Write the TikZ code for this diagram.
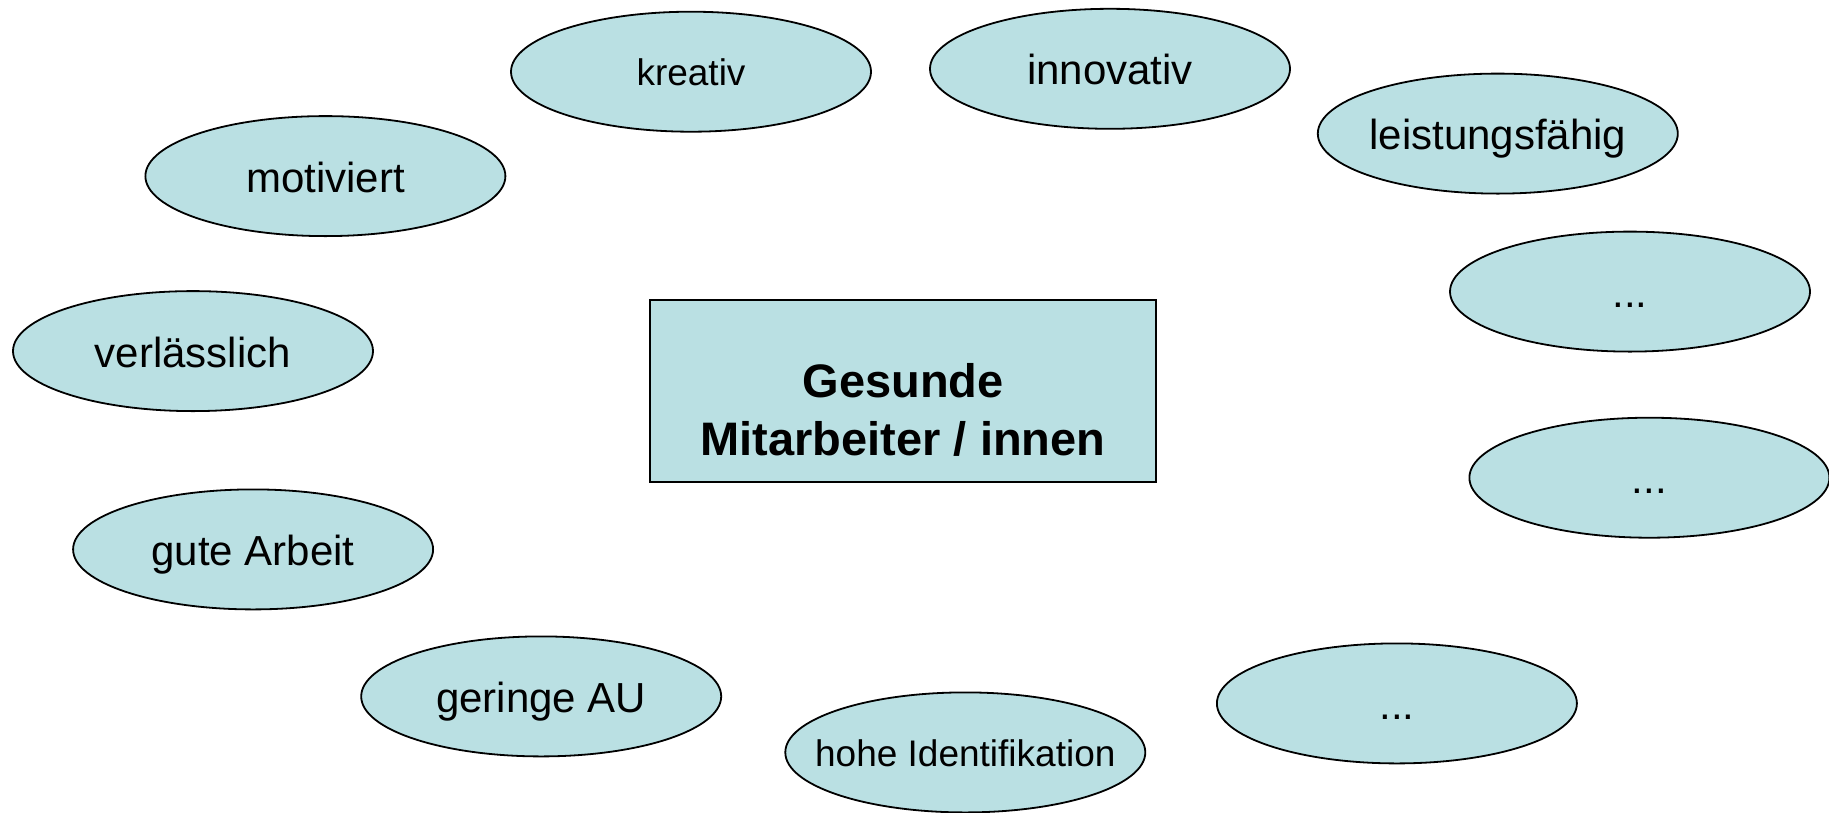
\documentclass[tikz,border=0pt]{standalone}
\usepackage{fontspec}
\setmainfont{Liberation Sans}
\usetikzlibrary{shapes.geometric}
\definecolor{bub}{RGB}{186,224,227}
\tikzset{
  bubble/.style={ellipse, draw=black, line width=1.8pt, fill=bub, minimum width=360pt, minimum height=120pt, inner sep=0pt},
  lbl/.style={anchor=base, inner sep=0pt, font=\fontsize{42}{50}\selectfont},
  smalllbl/.style={lbl, font=\fontsize{37}{44}\selectfont},
  centerbox/.style={rectangle, draw=black, line width=1.8pt, fill=bub, minimum width=506pt, minimum height=182pt, inner sep=0pt},
  centertext/.style={align=center, font=\fontsize{47}{58}\selectfont\bfseries}
}
\begin{document}
\begin{tikzpicture}[x=1pt,y=-1pt]
\useasboundingbox (0,0) rectangle (1829,812);
\node[bubble] (kreativ) at (691,71.7) {};
\node[smalllbl] (kreativT) at ([yshift=-14pt]kreativ.center) {kreativ};
\node[bubble] (innovativ) at (1110,68.8) {};
\node[lbl] (innovativT) at ([yshift=-16pt]innovativ.center) {innovativ};
\node[bubble] (leistung) at (1497.8,133.6) {};
\node[lbl] (leistungT) at ([yshift=-16pt]leistung.center) {leistungsfähig};
\node[bubble] (motiviert) at (325.4,176.1) {};
\node[lbl] (motiviertT) at ([yshift=-16pt]motiviert.center) {motiviert};
\node[bubble] (dotsa) at (1630,291.6) {};
\node[lbl] (dotsaT) at ([yshift=-16pt]dotsa.center) {...};
\node[bubble] (verl) at (193,351.1) {};
\node[lbl] (verlT) at ([yshift=-16pt]verl.center) {verlässlich};
\node[bubble] (dotsb) at (1649.4,477.7) {};
\node[lbl] (dotsbT) at ([yshift=-16pt]dotsb.center) {...};
\node[bubble] (gute) at (253.1,549.4) {};
\node[lbl] (guteT) at ([yshift=-16pt]gute.center) {gute Arbeit};
\node[bubble] (geringe) at (541.2,696.4) {};
\node[lbl] (geringeT) at ([yshift=-16pt]geringe.center) {geringe AU};
\node[bubble] (hohe) at (965.3,752.4) {};
\node[smalllbl] (hoheT) at ([yshift=-14pt]hohe.center) {hohe Identifikation};
\node[bubble] (dotsc) at (1396.9,703.4) {};
\node[lbl] (dotscT) at ([yshift=-16pt]dotsc.center) {...};
\node[centerbox] (box) at (903,390.8) {};
\node[centertext] (boxtext) at (903,410) {Gesunde\\Mitarbeiter / innen};
\end{tikzpicture}
\end{document}
